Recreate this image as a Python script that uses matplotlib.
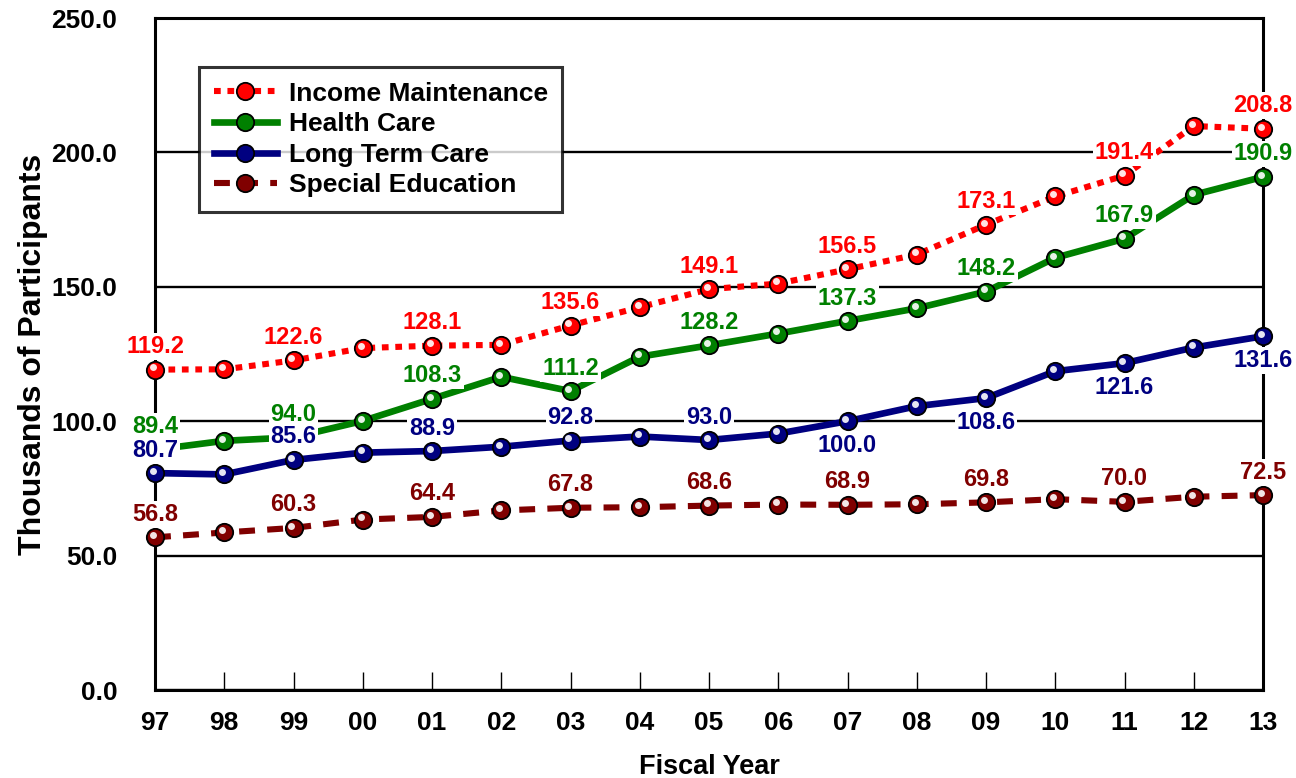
import matplotlib
matplotlib.use("Agg")
import matplotlib.pyplot as plt
from matplotlib import transforms

# ---- data ----
years = ['97', '98', '99', '00', '01', '02', '03', '04', '05',
         '06', '07', '08', '09', '10', '11', '12', '13']
income = [119.2, 119.3, 122.6, 127.2, 128.1, 128.4, 135.6, 142.4, 149.1,
          151.2, 156.5, 162.0, 173.1, 183.6, 191.4, 209.8, 208.8]
health = [89.4, 92.7, 94.0, 100.1, 108.3, 116.5, 111.2, 124.0, 128.2,
          132.6, 137.3, 142.0, 148.2, 160.8, 167.9, 184.2, 190.9]
ltc = [80.7, 80.2, 85.6, 88.3, 88.9, 90.5, 92.8, 94.3, 93.0,
       95.4, 100.0, 105.6, 108.6, 118.6, 121.6, 127.4, 131.6]
sped = [56.8, 58.6, 60.3, 63.4, 64.4, 66.8, 67.8, 68.0, 68.6,
        69.0, 68.9, 69.1, 69.8, 71.0, 70.0, 71.9, 72.5]
series_names = ['Income Maintenance', 'Health Care', 'Long Term Care', 'Special Education']
yticks = [0, 50, 100, 150, 200, 250]

plt.rcParams['font.family'] = ['Liberation Sans', 'DejaVu Sans']
plt.rcParams['font.weight'] = 'bold'

fig = plt.figure(figsize=(12.96, 7.78), dpi=100)
ax = fig.add_axes([155/1296, 1-690/778, (1263-155)/1296, (690-18)/778])

x = list(range(len(years)))

styles = [
    dict(color='#FF0000', ls=(0, (1.1, 1.1)), lw=4.4),
    dict(color='#008000', ls='-', lw=4.8),
    dict(color='#000080', ls='-', lw=4.8),
    dict(color='#800000', ls=(0, (2.6, 2.0)), lw=4.4),
]
data = [income, health, ltc, sped]
hl = transforms.offset_copy(ax.transData, fig=fig, x=-2.2, y=2.2, units='dots')

for vals, st, name in zip(data, styles, series_names):
    ax.plot(x, vals, color=st['color'], linestyle=st['ls'], linewidth=st['lw'],
            dash_capstyle='butt', marker='o', markersize=12.5,
            markerfacecolor=st['color'], markeredgecolor='black',
            markeredgewidth=1.3, label=name, clip_on=False, zorder=3)
    ax.plot(x, vals, linestyle='none', marker='o', markersize=5,
            markerfacecolor='white', markeredgecolor='none', alpha=0.9,
            transform=hl, clip_on=False, zorder=4)

# data labels at every other year
below_ltc = {10, 12, 14, 16}
for si, (vals, st) in enumerate(zip(data, styles)):
    for i in range(0, len(vals), 2):
        off = 16.5
        if si == 2 and i in below_ltc:
            off = -17.5
        ax.annotate(f"{vals[i]:.1f}", (x[i], vals[i]), xytext=(0, off),
                    textcoords='offset points', ha='center', va='center',
                    fontsize=17, fontweight='bold', color=st['color'],
                    bbox=dict(boxstyle='square,pad=0.08', fc='white', ec='none'),
                    zorder=6, annotation_clip=False)

ax.set_xlim(0, len(years) - 1)
ax.set_ylim(0, 250)
ax.set_xticks(x)
ax.set_xticklabels(years)
ax.set_yticks(yticks)
ax.set_yticklabels([f"{v:.1f}" for v in yticks])
ax.tick_params(axis='x', direction='in', length=13, width=1, pad=15,
               labelsize=19, colors='black')
ax.tick_params(axis='y', length=0, pad=27, labelsize=19)
for lab in ax.get_xticklabels() + ax.get_yticklabels():
    lab.set_fontweight('bold')

ax.yaxis.grid(True, color='black', linewidth=1.7)
ax.set_axisbelow(True)
for sp in ax.spines.values():
    sp.set_linewidth(2.2)
    sp.set_color('black')

ax.set_ylabel('Thousands of Participants', fontsize=23, fontweight='bold')
ax.yaxis.set_label_coords(-0.097, 0.5)
ax.set_xlabel('Fiscal Year', fontsize=19.5, fontweight='bold')
ax.xaxis.set_label_coords(0.5, -0.095)

leg = ax.legend(loc='upper left', bbox_to_anchor=(0.0397, 0.927), borderaxespad=0,
                fontsize=19, frameon=True, fancybox=False, handlelength=2.4,
                handletextpad=0.45, labelspacing=0.25, borderpad=0.55)
leg.get_frame().set_edgecolor('black')
leg.get_frame().set_linewidth(2.2)
for t in leg.get_texts():
    t.set_fontweight('bold')
leg.set_zorder(7)

fig.savefig('out.png', dpi=100)
